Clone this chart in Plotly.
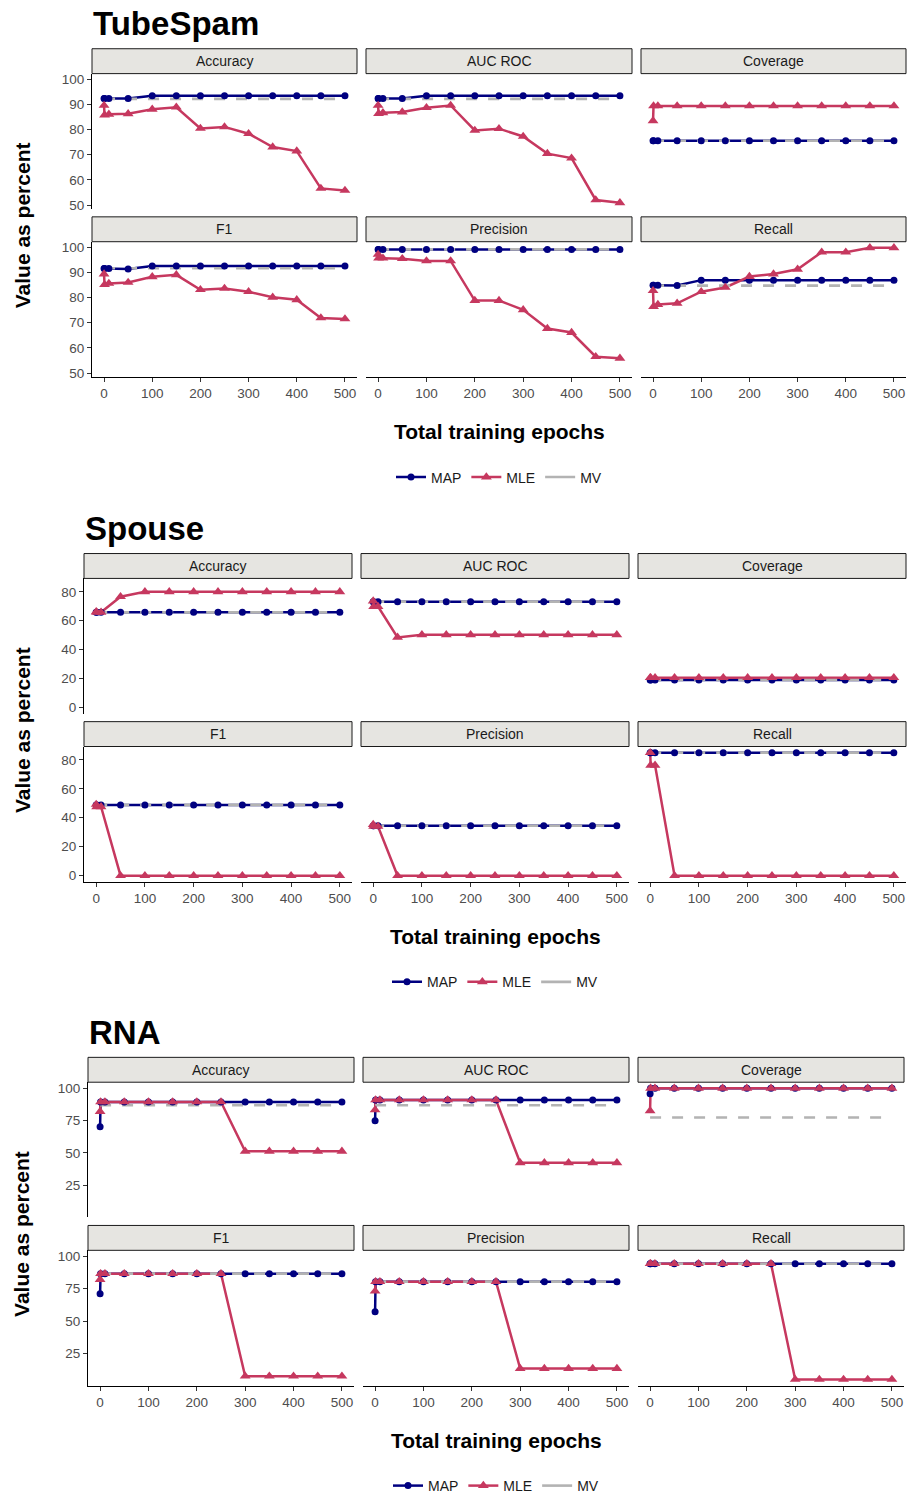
import plotly.graph_objects as go

# ---------------- data ----------------
epochs = [0, 1, 10, 50, 100, 150, 200, 250, 300, 350, 400, 450, 500]
metrics = ["Accuracy", "AUC ROC", "Coverage", "F1", "Precision", "Recall"]
methods = ["MAP", "MLE", "MV"]

# TubeSpam
ts_acc_map = [92.3, 92.3, 92.3, 92.3, 93.4, 93.4, 93.4, 93.4, 93.4, 93.4, 93.4, 93.4, 93.4]
ts_acc_mle = [89.5, 85.7, 86.0, 86.2, 88.0, 88.8, 80.4, 81.0, 78.3, 73.0, 71.4, 56.6, 55.8]
ts_auc_map = [92.3, 92.3, 92.3, 92.3, 93.4, 93.4, 93.4, 93.4, 93.4, 93.4, 93.4, 93.4, 93.4]
ts_auc_mle = [89.5, 86.3, 86.6, 86.9, 88.6, 89.5, 79.6, 80.3, 77.2, 70.4, 68.6, 52.0, 50.9]
ts_cov_map = [75.5, 75.5, 75.5, 75.5, 75.5, 75.5, 75.5, 75.5, 75.5, 75.5, 75.5, 75.5, 75.5]
ts_cov_mle = [83.4, 89.3, 89.3, 89.3, 89.3, 89.3, 89.3, 89.3, 89.3, 89.3, 89.3, 89.3, 89.3]
ts_f1_map = [91.5, 91.5, 91.5, 91.3, 92.5, 92.5, 92.5, 92.5, 92.5, 92.5, 92.5, 92.5, 92.5]
ts_f1_mle = [89.3, 85.1, 85.6, 86.0, 88.2, 89.0, 83.1, 83.6, 82.3, 80.1, 79.1, 71.9, 71.5]
ts_prec_map = [99.1, 99.1, 99.1, 99.1, 99.1, 99.1, 99.1, 99.1, 99.1, 99.1, 99.1, 99.1, 99.1]
ts_prec_mle = [97.1, 95.6, 95.6, 95.4, 94.5, 94.5, 78.8, 78.8, 75.1, 67.7, 66.1, 56.5, 55.9]
ts_rec_map = [84.9, 84.9, 84.9, 84.8, 86.9, 86.9, 86.9, 86.9, 86.9, 86.9, 86.9, 86.9, 86.9]
ts_rec_mle = [82.7, 76.4, 77.2, 77.7, 82.3, 84.0, 88.3, 89.3, 91.2, 98.0, 98.0, 99.7, 99.7]
ts_mv = [92.1, 92.1, 75.5, 91.6, 99.1, 84.7]

# Spouse
sp_acc_map = [65.8, 65.8, 65.8, 65.8, 65.8, 65.8, 65.8, 65.8, 65.8, 65.8, 65.8, 65.8, 65.8]
sp_acc_mle = [66.2, 65.8, 65.8, 76.6, 80.0, 80.0, 80.0, 80.0, 80.0, 80.0, 80.0, 80.0, 80.0]
sp_auc_map = [73.2, 73.2, 73.2, 73.2, 73.2, 73.2, 73.2, 73.2, 73.2, 73.2, 73.2, 73.2, 73.2]
sp_auc_mle = [73.6, 69.8, 69.8, 48.5, 50.3, 50.3, 50.3, 50.3, 50.3, 50.3, 50.3, 50.3, 50.3]
sp_cov_map = [19.0, 19.0, 19.0, 19.0, 19.0, 19.0, 19.0, 19.0, 19.0, 19.0, 19.0, 19.0, 19.0]
sp_cov_mle = [20.6, 20.6, 20.6, 20.6, 20.6, 20.6, 20.6, 20.6, 20.6, 20.6, 20.6, 20.6, 20.6]
sp_f1_map = [48.9, 48.9, 48.9, 48.9, 48.9, 48.9, 48.9, 48.9, 48.9, 48.9, 48.9, 48.9, 48.9]
sp_f1_mle = [49.2, 47.6, 47.6, 0.0, 0.0, 0.0, 0.0, 0.0, 0.0, 0.0, 0.0, 0.0, 0.0]
sp_prec_map = [34.5, 34.5, 34.5, 34.5, 34.5, 34.5, 34.5, 34.5, 34.5, 34.5, 34.5, 34.5, 34.5]
sp_prec_mle = [35.3, 34.0, 34.0, 0.0, 0.0, 0.0, 0.0, 0.0, 0.0, 0.0, 0.0, 0.0, 0.0]
sp_rec_map = [85.0, 85.0, 85.0, 85.0, 85.0, 85.0, 85.0, 85.0, 85.0, 85.0, 85.0, 85.0, 85.0]
sp_rec_mle = [85.0, 76.3, 76.3, 0.0, 0.0, 0.0, 0.0, 0.0, 0.0, 0.0, 0.0, 0.0, 0.0]
sp_mv = [65.8, 73.2, 19.0, 48.9, 34.5, 85.0]

# RNA
rna_acc_map = [70.3, 89.5, 89.5, 89.5, 89.5, 89.5, 89.5, 89.5, 89.5, 89.5, 89.5, 89.5, 89.5]
rna_acc_mle = [82.0, 89.5, 89.5, 89.5, 89.5, 89.5, 89.5, 89.5, 51.3, 51.3, 51.3, 51.3, 51.3]
rna_auc_map = [74.9, 91.0, 91.0, 91.0, 91.0, 91.0, 91.0, 91.0, 91.0, 91.0, 91.0, 91.0, 91.0]
rna_auc_mle = [83.3, 91.0, 91.0, 91.0, 91.0, 91.0, 91.0, 91.0, 42.4, 42.4, 42.4, 42.4, 42.4]
rna_cov_map = [95.9, 100.0, 100.0, 100.0, 100.0, 100.0, 100.0, 100.0, 100.0, 100.0, 100.0, 100.0, 100.0]
rna_cov_mle = [82.6, 100.0, 100.0, 100.0, 100.0, 100.0, 100.0, 100.0, 100.0, 100.0, 100.0, 100.0, 100.0]
rna_f1_map = [71.1, 86.7, 86.7, 86.7, 86.7, 86.7, 86.7, 86.7, 86.7, 86.7, 86.7, 86.7, 86.7]
rna_f1_mle = [82.1, 86.7, 86.7, 86.7, 86.7, 86.7, 86.7, 86.7, 7.3, 7.3, 7.3, 7.3, 7.3]
rna_prec_map = [57.2, 80.5, 80.5, 80.5, 80.5, 80.5, 80.5, 80.5, 80.5, 80.5, 80.5, 80.5, 80.5]
rna_prec_mle = [73.1, 80.5, 80.5, 80.5, 80.5, 80.5, 80.5, 80.5, 13.2, 13.2, 13.2, 13.2, 13.2]
rna_rec_map = [94.4, 94.4, 94.4, 94.4, 94.4, 94.4, 94.4, 94.4, 94.4, 94.4, 94.4, 94.4, 94.4]
rna_rec_mle = [94.4, 94.4, 94.4, 94.4, 94.4, 94.4, 94.4, 94.4, 4.8, 4.8, 4.8, 4.8, 4.8]
rna_mv = [86.9, 86.9, 77.5, 86.7, 80.5, 94.4]

x_ticks = [0, 100, 200, 300, 400, 500]
ts_yticks = [50, 60, 70, 80, 90, 100]
sp_yticks = [0, 20, 40, 60, 80]
rna_yticks = [25, 50, 75, 100]

# ---------------- styling / layout ----------------
W, H = 907, 1502
FONT = "Liberation Sans, Arial, sans-serif"
NAVY = "#000080"
CRIMSON = "#C6385F"
GRAY = "#B3B3B3"
STRIP_FILL = "#E6E5E1"
LW = 2.5
DOT = 7
TRI = 9.5


def fx(px):
    return px / W


def fy(py):
    return 1 - py / H


sections = [
    dict(title="TubeSpam", off=0, cols=[(92, 357), (366, 632), (641, 906)],
         yrange=[48.46, 102.14], yticks=ts_yticks,
         map=[ts_acc_map, ts_auc_map, ts_cov_map, ts_f1_map, ts_prec_map, ts_rec_map],
         mle=[ts_acc_mle, ts_auc_mle, ts_cov_mle, ts_f1_mle, ts_prec_mle, ts_rec_mle],
         mv=ts_mv),
    dict(title="Spouse", off=507.5, cols=[(84, 352), (361, 629), (638, 906)],
         yrange=[-4.25, 89.25], yticks=sp_yticks,
         map=[sp_acc_map, sp_auc_map, sp_cov_map, sp_f1_map, sp_prec_map, sp_rec_map],
         mle=[sp_acc_mle, sp_auc_mle, sp_cov_mle, sp_f1_mle, sp_prec_mle, sp_rec_mle],
         mv=sp_mv),
    dict(title="RNA", off=1014, cols=[(88, 354), (363, 629), (638, 904)],
         yrange=[0.04, 104.76], yticks=rna_yticks,
         map=[rna_acc_map, rna_auc_map, rna_cov_map, rna_f1_map, rna_prec_map, rna_rec_map],
         mle=[rna_acc_mle, rna_auc_mle, rna_cov_mle, rna_f1_mle, rna_prec_mle, rna_rec_mle],
         mv=rna_mv),
]

# strip top, panel top, panel bottom (section-relative px)
rows_px = [(47, 72, 208), (216, 241, 377)]

fig = go.Figure()
layout = {}
shapes = []
annotations = []
n = 0
for s_i, sec in enumerate(sections):
    off = sec["off"]
    leg = "legend" if s_i == 0 else f"legend{s_i + 1}"
    for m_i, metric in enumerate(metrics):
        r, c = divmod(m_i, 3)
        n += 1
        xa = "xaxis" if n == 1 else f"xaxis{n}"
        ya = "yaxis" if n == 1 else f"yaxis{n}"
        xr = "x" if n == 1 else f"x{n}"
        yr = "y" if n == 1 else f"y{n}"
        x0, x1 = sec["cols"][c]
        st, pt, pb = [v + off for v in rows_px[r]]
        bottom = r == 1
        left = c == 0
        layout[xa] = dict(
            domain=[fx(x0), fx(x1)], range=[-25, 525], anchor=yr,
            showgrid=False, zeroline=False,
            showline=bottom, linecolor="black", linewidth=1,
            ticks="outside" if bottom else "", ticklen=4, tickwidth=1, tickcolor="#333333",
            tickvals=x_ticks, showticklabels=bottom,
            tickfont=dict(family=FONT, size=13.5, color="#4D4D4D"),
        )
        layout[ya] = dict(
            domain=[fy(pb), fy(pt)], range=sec["yrange"], anchor=xr,
            showgrid=False, zeroline=False,
            showline=left, linecolor="black", linewidth=1,
            ticks="outside" if left else "", ticklen=4, tickwidth=1, tickcolor="#333333",
            tickvals=sec["yticks"], showticklabels=left,
            tickfont=dict(family=FONT, size=13.5, color="#4D4D4D"),
        )
        # strip
        shapes.append(dict(type="rect", xref="paper", yref="paper",
                           x0=fx(x0), x1=fx(x1), y0=fy(pt), y1=fy(st),
                           fillcolor=STRIP_FILL, line=dict(color="#1A1A1A", width=1), layer="below"))
        annotations.append(dict(text=metric, xref="paper", yref="paper",
                                x=fx((x0 + x1) / 2), y=fy((st + pt) / 2),
                                xanchor="center", yanchor="middle", showarrow=False,
                                font=dict(family=FONT, size=14, color="#1A1A1A")))
        mv = sec["mv"][m_i]
        # line layer (MAP, MLE, MV), then point layer (MAP, MLE)
        fig.add_trace(go.Scatter(
            x=epochs, y=sec["map"][m_i], mode="lines", name="MAP",
            line=dict(color=NAVY, width=LW),
            xaxis=xr, yaxis=yr, legend=leg, showlegend=False))
        fig.add_trace(go.Scatter(
            x=epochs, y=sec["mle"][m_i], mode="lines", name="MLE",
            line=dict(color=CRIMSON, width=LW),
            xaxis=xr, yaxis=yr, legend=leg, showlegend=False))
        fig.add_trace(go.Scatter(
            x=[epochs[0], epochs[-1]], y=[mv, mv], mode="lines", name="MV",
            line=dict(color=GRAY, width=2.6, dash="11px,11px"),
            xaxis=xr, yaxis=yr, legend=leg, showlegend=False))
        fig.add_trace(go.Scatter(
            x=epochs, y=sec["map"][m_i], mode="markers", name="MAP",
            marker=dict(symbol="circle", size=DOT, color=NAVY),
            xaxis=xr, yaxis=yr, legend=leg, showlegend=False))
        fig.add_trace(go.Scatter(
            x=epochs, y=sec["mle"][m_i], mode="markers", name="MLE",
            marker=dict(symbol="triangle-up", size=TRI, color=CRIMSON),
            xaxis=xr, yaxis=yr, legend=leg, showlegend=False))

    # legend keys for this section
    first_x = "x" if s_i == 0 else f"x{s_i * 6 + 1}"
    first_y = "y" if s_i == 0 else f"y{s_i * 6 + 1}"
    fig.add_trace(go.Scatter(x=[None], y=[None], mode="lines+markers", name="MAP",
                             line=dict(color=NAVY, width=LW), marker=dict(symbol="circle", size=DOT, color=NAVY),
                             xaxis=first_x, yaxis=first_y, legend=leg, showlegend=True))
    fig.add_trace(go.Scatter(x=[None], y=[None], mode="lines+markers", name="MLE",
                             line=dict(color=CRIMSON, width=LW),
                             marker=dict(symbol="triangle-up", size=TRI, color=CRIMSON),
                             xaxis=first_x, yaxis=first_y, legend=leg, showlegend=True))
    fig.add_trace(go.Scatter(x=[None], y=[None], mode="lines", name="MV",
                             line=dict(color=GRAY, width=2.6),
                             xaxis=first_x, yaxis=first_y, legend=leg, showlegend=True))

    cols = sec["cols"]
    cx = (cols[0][0] + cols[2][1]) / 2
    annotations.append(dict(text=f"<b>{sec['title']}</b>", xref="paper", yref="paper",
                            x=fx(cols[0][0] - 1), y=fy(22 + off), xanchor="left", yanchor="middle",
                            showarrow=False, font=dict(family=FONT, size=33, color="black")))
    annotations.append(dict(text="<b>Total training epochs</b>", xref="paper", yref="paper",
                            x=fx(cx), y=fy(432 + off), xanchor="center", yanchor="middle",
                            showarrow=False, font=dict(family=FONT, size=21, color="black")))
    annotations.append(dict(text="<b>Value as percent</b>", xref="paper", yref="paper",
                            x=fx(22), y=fy((72 + 377) / 2 + off), xanchor="center", yanchor="middle",
                            textangle=-90, showarrow=False,
                            font=dict(family=FONT, size=21, color="black")))
    layout[leg] = dict(orientation="h", x=fx(cx), xanchor="center",
                       y=fy(478 + off), yanchor="middle",
                       font=dict(family=FONT, size=14, color="#1A1A1A"),
                       bgcolor="rgba(0,0,0,0)", itemwidth=30, tracegroupgap=0)

fig.update_layout(
    width=W, height=H, autosize=False,
    margin=dict(l=0, r=0, t=0, b=0),
    paper_bgcolor="white", plot_bgcolor="white",
    font=dict(family=FONT),
    shapes=shapes, annotations=annotations,
    **layout,
)

fig.write_html(
    "out.html",
    config={"displayModeBar": False},
    post_script="document.body.style.margin='0px';document.body.style.overflow='hidden';",
)
